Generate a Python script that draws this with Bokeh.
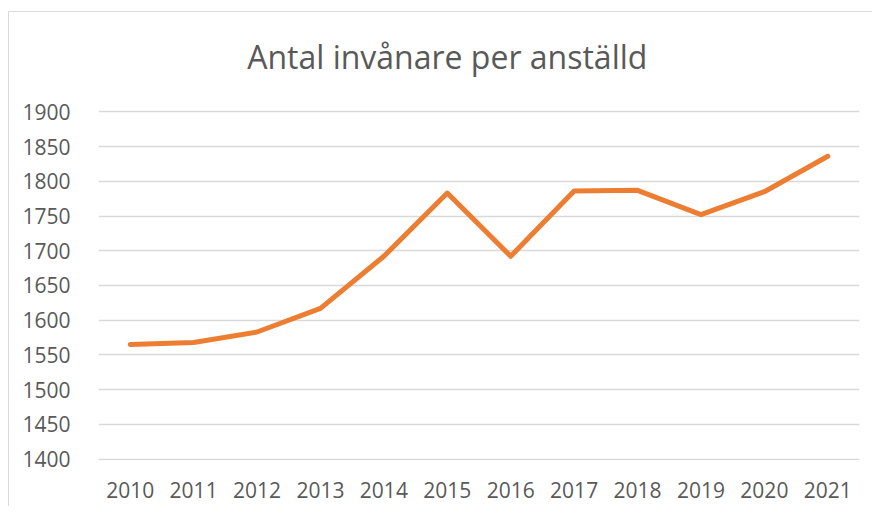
from bokeh.plotting import figure
from bokeh.models import Range1d, FactorRange, FixedTicker
from bokeh.core.properties import value
from bokeh.embed import file_html
from bokeh.resources import INLINE

years = ["2010", "2011", "2012", "2013", "2014", "2015",
         "2016", "2017", "2018", "2019", "2020", "2021"]
invanare_per_anstalld = [1565, 1568, 1583, 1617, 1692, 1783,
                         1692, 1786, 1787, 1752, 1785, 1836]
y_ticks = [1400, 1450, 1500, 1550, 1600, 1650, 1700, 1750, 1800, 1850, 1900]
title_text = "Antal invånare per anställd"

GRAY_TEXT = "#595959"
GRID = "#d9d9d9"
ORANGE = "#ED7D31"

# frame extends to the top of the canvas so the title can sit inside it
p = figure(
    width=864, height=495,
    x_range=FactorRange(*years, range_padding=0),
    y_range=Range1d(1398, 2043),
    output_backend="svg", toolbar_location=None,
    min_border_left=89, min_border_right=14,
    min_border_top=0, min_border_bottom=47,
    background_fill_color="white", border_fill_color="white",
    outline_line_color=None,
)
p.margin = (11, 0, 0, 8)
p.styles = {"border-left": "1px solid #d9d9d9", "border-top": "1px solid #d9d9d9"}

# chart title, placed above the 1900 gridline
p.text(x=["2015"], y=[1980], text=[title_text], x_offset=0,
       text_align="center", text_baseline="alphabetic",
       text_font=value("Open Sans"), text_font_size="32px",
       text_color=GRAY_TEXT)

p.line(years, invanare_per_anstalld, line_color=ORANGE, line_width=5,
       line_join="round", line_cap="round")

p.yaxis.ticker = FixedTicker(ticks=y_ticks)
for ax in (p.xaxis, p.yaxis):
    ax.axis_line_color = None
    ax.major_tick_line_color = None
    ax.minor_tick_line_color = None
    ax.major_label_text_font = "Open Sans"
    ax.major_label_text_font_size = "21px"
    ax.major_label_text_color = GRAY_TEXT
p.yaxis.major_label_standoff = 22
p.xaxis.major_label_standoff = 15

p.xgrid.grid_line_color = None
p.ygrid.grid_line_color = GRID
p.ygrid.grid_line_width = 1.3

open("out.html", "w").write(file_html(p, INLINE))
